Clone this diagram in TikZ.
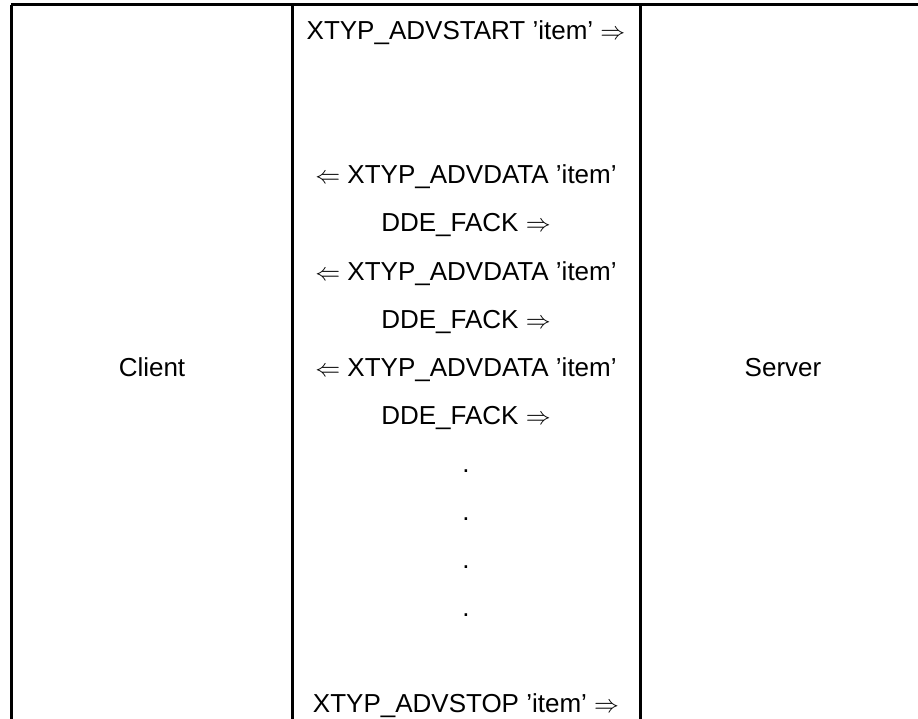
\documentclass[tikz,border=0pt]{standalone}
\usepackage{fontspec}
\setmainfont{Liberation Sans}

\tikzset{
  msg/.style={anchor=base, inner sep=0pt, font=\fontsize{26}{30}\selectfont},
  frame/.style={line width=3pt}
}

\begin{document}
\begin{tikzpicture}[x=1pt, y=-1pt]
        \useasboundingbox (0,0) rectangle (918,719);

        % Draw the table frame
        \draw[frame] (11,5) -- (918,5);
        \draw[frame] (11,5) -- (11,719);
        \draw[frame] (292,5) -- (292,719);
        \draw[frame] (640,5) -- (640,719);

        % Both parties
        \node[msg] (client) at (152,376) {Client};
        \node[msg] (server) at (783,376) {Server};

        % Messages in the middle column
        \node[msg] (start) at (466,40) {XTYP\_ADVSTART 'item' $\Rightarrow$};
        \node[msg] (data1) at (466,184) {$\Leftarrow$ XTYP\_ADVDATA 'item'};
        \node[msg] (fack1) at (466,232) {DDE\_FACK $\Rightarrow$};
        \node[msg] (data2) at (466,280) {$\Leftarrow$ XTYP\_ADVDATA 'item'};
        \node[msg] (fack2) at (466,328) {DDE\_FACK $\Rightarrow$};
        \node[msg] (data3) at (466,376) {$\Leftarrow$ XTYP\_ADVDATA 'item'};
        \node[msg] (fack3) at (466,424) {DDE\_FACK $\Rightarrow$};
        \node[msg] (dot1) at (466,472) {.};
        \node[msg] (dot2) at (466,520) {.};
        \node[msg] (dot3) at (466,568) {.};
        \node[msg] (dot4) at (466,616) {.};
        \node[msg] (stop) at (466,712) {XTYP\_ADVSTOP 'item' $\Rightarrow$};
\end{tikzpicture}
\end{document}
